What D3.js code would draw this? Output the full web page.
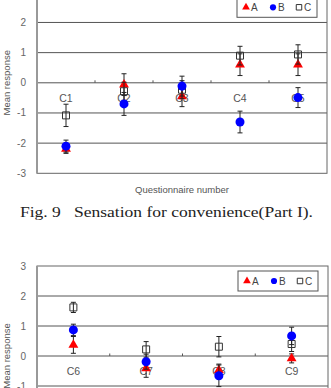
<!DOCTYPE html>
<html>
<head>
<meta charset="utf-8">
<script src="https://cdn.jsdelivr.net/npm/d3@7"></script>
<style>
  html, body { margin: 0; padding: 0; background: #fff; }
  svg { display: block; }
</style>
</head>
<body>
<svg id="chart" width="331" height="388"></svg>
<script>
// Part I (Fig. 9)
const cats1 = ["C1", "C2", "C3", "C4", "C5"];
const a1 = [-2.19, -0.06, -0.45, 0.60, 0.60];
const a1Err = [0.15, 0.36, 0.34, 0.36, 0.36];
const b1 = [-2.10, -0.70, -0.11, -1.30, -0.49];
const b1Err = [0.20, 0.38, 0.33, 0.36, 0.33];
const c1 = [-1.08, -0.28, -0.23, 0.90, 0.94];
const c1Err = [0.37, 0.30, 0.30, 0.31, 0.32];

// Part II (next figure, partly visible)
const cats2 = ["C6", "C7", "C8", "C9"];
const a2 = [0.37, -0.41, -0.47, -0.08];
const a2Err = [0.28, 0.30, 0.20, 0.15];
const b2 = [0.87, -0.19, -0.66, 0.67];
const b2Err = [0.19, 0.25, 0.36, 0.29];
const c2 = [1.62, 0.22, 0.31, 0.40];
const c2Err = [0.17, 0.26, 0.34, 0.25];

const yTicks = [-3, -2, -1, 0, 1, 2, 3];
const seriesNames = ["A", "B", "C"];

const svg = d3.select("#chart");
const sansFont = "'Liberation Sans', Arial, sans-serif";

function drawPanel(opts) {
  const { cats, series, top, bottom, left, right } = opts;
  const g = svg.append("g");

  const x = d3.scaleBand().domain(cats).range([left, right]);
  const y = d3.scaleLinear().domain([-3, 3]).range([bottom, top]);

  // gridlines
  g.append("g")
    .selectAll("line")
    .data(yTicks.filter((t) => t > -3 && t < 3))
    .join("line")
    .attr("x1", left)
    .attr("x2", right)
    .attr("y1", (d) => y(d))
    .attr("y2", (d) => y(d))
    .attr("stroke", "#555")
    .attr("stroke-width", 1);

  // frame
  g.append("rect")
    .attr("x", left)
    .attr("y", top)
    .attr("width", right - left)
    .attr("height", bottom - top)
    .attr("fill", "none")
    .attr("stroke", "#666")
    .attr("stroke-width", 1);
  g.append("line")
    .attr("x1", left).attr("x2", left)
    .attr("y1", top).attr("y2", bottom)
    .attr("stroke", "#999")
    .attr("stroke-width", 2);

  // y tick labels
  g.append("g")
    .selectAll("text")
    .data(yTicks)
    .join("text")
    .attr("x", left - 11)
    .attr("y", (d) => y(d) + 3.5)
    .attr("text-anchor", "end")
    .attr("font-family", sansFont)
    .attr("font-size", 10)
    .attr("fill", "#666")
    .text((d) => d);

  // category ticks on the zero line
  g.append("g")
    .selectAll("line")
    .data(cats.slice(1))
    .join("line")
    .attr("x1", (d) => x(d))
    .attr("x2", (d) => x(d))
    .attr("y1", y(0) - 2.5)
    .attr("y2", y(0))
    .attr("stroke", "#555");

  // category labels
  g.append("g")
    .selectAll("text")
    .data(cats)
    .join("text")
    .attr("x", (d) => x(d) + x.bandwidth() / 2)
    .attr("y", y(0) + 19)
    .attr("text-anchor", "middle")
    .attr("font-family", sansFont)
    .attr("font-size", 10.5)
    .attr("fill", "#555")
    .text((d) => d);

  // y title
  const yMid = (top + bottom) / 2;
  g.append("text")
    .attr("transform", `translate(10,${yMid}) rotate(-90)`)
    .attr("text-anchor", "middle")
    .attr("font-family", sansFont)
    .attr("font-size", 9.5)
    .attr("fill", "#555")
    .text("Mean response");

  // series: A (triangle), C (square), B (circle) drawn in this order
  const order = [series[0], series[2], series[1]];
  for (const s of order) {
    const pts = cats.map((c, i) => ({ c, v: s.values[i], e: s.err[i] }));
    const cx = (d) => x(d.c) + x.bandwidth() / 2;
    const eg = g.append("g").attr("stroke", "#222").attr("stroke-width", 1);
    eg.selectAll("line.v")
      .data(pts)
      .join("line")
      .attr("class", "v")
      .attr("x1", cx).attr("x2", cx)
      .attr("y1", (d) => y(d.v + d.e))
      .attr("y2", (d) => y(d.v - d.e));
    eg.selectAll("line.t")
      .data(pts)
      .join("line")
      .attr("class", "t")
      .attr("x1", (d) => cx(d) - 2.5).attr("x2", (d) => cx(d) + 2.5)
      .attr("y1", (d) => y(d.v + d.e)).attr("y2", (d) => y(d.v + d.e));
    eg.selectAll("line.b")
      .data(pts)
      .join("line")
      .attr("class", "b")
      .attr("x1", (d) => cx(d) - 2.5).attr("x2", (d) => cx(d) + 2.5)
      .attr("y1", (d) => y(d.v - d.e)).attr("y2", (d) => y(d.v - d.e));

    g.append("g")
      .selectAll("path")
      .data(pts)
      .join("path")
      .attr("transform", (d) => `translate(${cx(d)},${y(d.v)})`)
      .attr("d", s.symbol)
      .attr("fill", s.fill)
      .attr("stroke", s.stroke)
      .attr("stroke-width", s.stroke === "none" ? 0 : 1);
  }

  // legend
  const lx = right - 90;
  const ly = top + 5;
  const lg = g.append("g").attr("transform", `translate(${lx},${ly})`);
  lg.append("rect")
    .attr("width", 80)
    .attr("height", 20)
    .attr("fill", "#fff")
    .attr("stroke", "#555");
  const legendX = [9, 36, 62];
  series.forEach((s, i) => {
    lg.append("path")
      .attr("transform", `translate(${legendX[i]},10)`)
      .attr("d", s.legendSymbol)
      .attr("fill", s.fill)
      .attr("stroke", s.stroke)
      .attr("stroke-width", s.stroke === "none" ? 0 : 1);
    lg.append("text")
      .attr("x", legendX[i] + 5)
      .attr("y", 14)
      .attr("font-family", sansFont)
      .attr("font-size", 10)
      .attr("fill", "#444")
      .text(seriesNames[i]);
  });

  return { x, y };
}

const tri = d3.symbol().type(d3.symbolTriangle).size(42)();
const circ = d3.symbol().type(d3.symbolCircle).size(64)();
const sq = d3.symbol().type(d3.symbolSquare).size(49)();
const triL = d3.symbol().type(d3.symbolTriangle).size(26)();
const circL = d3.symbol().type(d3.symbolCircle).size(30)();
const sqL = d3.symbol().type(d3.symbolSquare).size(30)();

function makeSeries(a, aE, b, bE, c, cE) {
  return [
    { values: a, err: aE, symbol: tri, legendSymbol: triL, fill: "#ff0000", stroke: "none" },
    { values: b, err: bE, symbol: circ, legendSymbol: circL, fill: "#0000ff", stroke: "none" },
    { values: c, err: cE, symbol: sq, legendSymbol: sqL, fill: "none", stroke: "#333" }
  ];
}

drawPanel({
  cats: cats1,
  series: makeSeries(a1, a1Err, b1, b1Err, c1, c1Err),
  top: -7.7, bottom: 173.3, left: 37, right: 327
});

svg.append("text")
  .attr("x", 182)
  .attr("y", 193)
  .attr("text-anchor", "middle")
  .attr("font-family", sansFont)
  .attr("font-size", 9.5)
  .attr("fill", "#555")
  .text("Questionnaire number");

svg.append("text")
  .attr("x", 20)
  .attr("y", 216.5)
  .attr("font-family", "'Liberation Serif', 'Times New Roman', serif")
  .attr("font-size", 14.5)
  .attr("fill", "#222")
  .attr("xml:space", "preserve")
  .attr("textLength", 293)
  .attr("lengthAdjust", "spacingAndGlyphs")
  .text("Fig. 9   Sensation for convenience(Part I).");

drawPanel({
  cats: cats2,
  series: makeSeries(a2, a2Err, b2, b2Err, c2, c2Err),
  top: 266, bottom: 446, left: 37, right: 328
});
</script>
</body>
</html>
